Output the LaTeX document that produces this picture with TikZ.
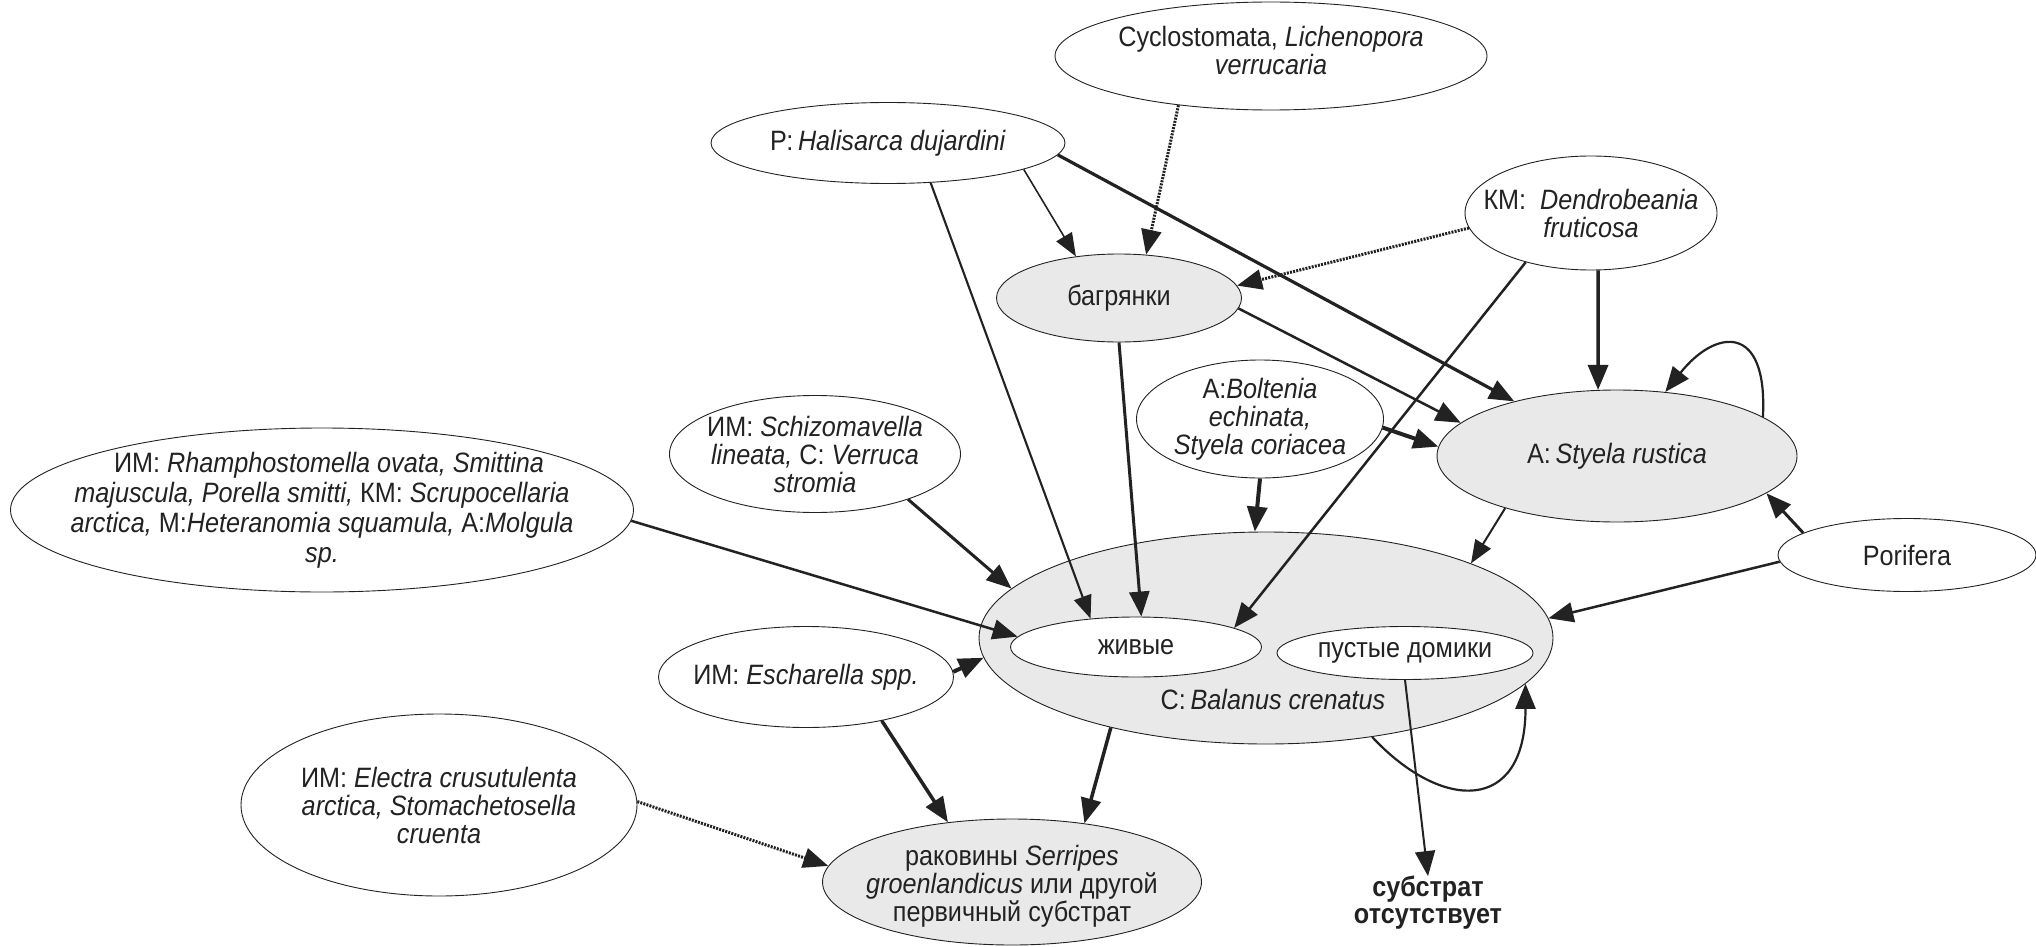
\documentclass[tikz,border=0pt]{standalone}
\usepackage{fontspec}
\setmainfont{Liberation Sans}[FakeStretch=0.9]
\usetikzlibrary{shapes.geometric,arrows.meta}
\definecolor{bgray}{HTML}{E9E9E9}
\definecolor{ink}{HTML}{222222}
\tikzset{
  ell/.style={draw=ink, ellipse, inner sep=0pt, line width=0.9pt, fill=white},
  gr/.style={fill=bgray},
  txt/.style={align=center, inner sep=0pt, text=ink, font=\fontsize{28}{28}\selectfont},
  tip/.style={-{Triangle[length=25pt,width=20pt]}},
  tipS/.style={-{Triangle[length=23pt,width=18pt]}},
  e/.style={draw=ink, line width=#1, tip},
  es/.style={draw=ink, line width=#1, tipS},
  dotl/.style={draw=ink, line width=3pt, dash pattern=on 2pt off 1.2pt, tip},
}
\begin{document}
\begin{tikzpicture}[x=1pt,y=-1pt]
\useasboundingbox (0,0) rectangle (2036,947);
% ellipses
\node[ell, minimum width=432, minimum height=108] (cyc) at (1271,56) {};
\node[ell, minimum width=354, minimum height=81] (hal) at (888,143) {};
\node[ell, gr, minimum width=245, minimum height=88] (bag) at (1119,298) {};
\node[ell, minimum width=252, minimum height=114] (dend) at (1591,213) {};
\node[ell, gr, minimum width=360, minimum height=132] (sty) at (1617,456) {};
\node[ell, minimum width=247, minimum height=118] (bol) at (1260,419) {};
\node[ell, minimum width=291, minimum height=117] (sch) at (815,454) {};
\node[ell, minimum width=623, minimum height=164] (rham) at (322,510) {};
\node[ell, gr, minimum width=574, minimum height=212] (bal) at (1266,638) {};
\node[ell, minimum width=251, minimum height=60] (jiv) at (1136,647) {};
\node[ell, minimum width=256, minimum height=53] (pust) at (1405,653) {};
\node[ell, minimum width=258, minimum height=73] (por) at (1907,555) {};
\node[ell, minimum width=295, minimum height=101] (esch) at (806,677) {};
\node[ell, minimum width=396, minimum height=182] (elec) at (439,805) {};
\node[ell, gr, minimum width=379, minimum height=126] (rak) at (1012,882) {};
% texts
\node[txt] (cyc-t) at (1271,50) {Cyclostomata, \textit{Lichenopora}\\\textit{verrucaria}};
\node[txt] (hal-t) at (hal) {Р:\,\textit{Halisarca dujardini}};
\node[txt] (bag-t) at (bag) {багрянки};
\node[txt] (dend-t) at (dend) {КМ:\ \ \textit{Dendrobeania}\\\textit{fruticosa}};
\node[txt] (sty-t) at (sty) {А:\,\textit{Styela rustica}};
\node[txt] (bol-t) at (bol) {А:\textit{Boltenia}\\\textit{echinata,}\\\textit{Styela coriacea}};
\node[txt] (sch-t) at (sch) {ИМ: \textit{Schizomavella}\\\textit{lineata,} С:\ \textit{Verruca}\\\textit{stromia}};
\node[txt, font=\fontsize{28}{30}\selectfont] (rham-t) at (rham) {\ \ ИМ: \textit{Rhamphostomella ovata, Smittina}\\\textit{majuscula, Porella smitti,} КМ: \textit{Scrupocellaria}\\\textit{arctica,} М:\textit{Heteranomia squamula,} А:\textit{Molgula}\\\textit{sp.}};
\node[txt] (jiv-t) at (jiv) {живые};
\node[txt] (pust-t) at (pust) {пустые домики};
\node[txt] (bal-t) at (1273,699) {С:\,\textit{Balanus crenatus}};
\node[txt] (por-t) at (por) {Porifera};
\node[txt] (esch-t) at (esch) {ИМ: \textit{Escharella spp.}};
\node[txt] (elec-t) at (elec) {ИМ: \textit{Electra crusutulenta}\\\textit{arctica, Stomachetosella}\\\textit{cruenta}};
\node[txt] (rak-t) at (1012,886) {раковины \textit{Serripes}\\\textit{groenlandicus} или другой\\первичный субстрат};
\node[txt, font=\bfseries\fontsize{28}{27}\selectfont] (sub) at (1428,903) {субстрат\\отсутствует};
% edges
\draw[es=1.6pt] (hal.-11.8) -- (bag.136.7);
\draw[es=2.1pt] (hal.-43) -- (jiv.148);
\draw[e=3.2pt] (hal.-4.8) -- (sty.152.5);
\draw[dotl] (cyc.-152.7) -- (bag.58.7);
\draw[dotl] (dend.187) -- (bag.6.6);
\draw[e=2.5pt] (bag.-5.5) -- (sty.168);
\draw[e=3pt] (bag.-90) -- (jiv.80);
\draw[e=3.5pt] (dend.-83) -- (sty.106);
\draw[e=2.5pt] (dend.-143) -- (jiv.11);
\draw[e=2.2pt] (sty.15.5) .. controls +(5,-95) and +(50,-63) .. (sty.53);
\draw[e=4pt] (bol.-4.3) -- (sty.177.5);
\draw[e=4pt] (bol.-90) -- (bal.96);
\draw[es=2pt] (sty.-155) -- (bal.20);
\draw[e=3pt] (por.168) -- (sty.-14);
\draw[e=2.5pt] (por.183.5) -- (bal.4);
\draw[e=3pt] (sch.-26) -- (bal.169);
\draw[e=2.5pt] (rham.-2.3) -- (jiv.175);
\draw[e=4pt] (esch.2) -- (bal.184);
\draw[e=3.5pt] (esch.-30) -- (rak.137.6);
\draw[e=3.5pt] (bal.-150) -- (rak.39);
\draw[dotl] (elec.1) -- (rak.175);
\draw[e=2pt] (pust.-90) -- (sub.north);
\draw[e=2.2pt] (bal.-43.5) .. controls +(70,75) and +(0,130) .. (bal.-10.7);
\end{tikzpicture}
\end{document}
